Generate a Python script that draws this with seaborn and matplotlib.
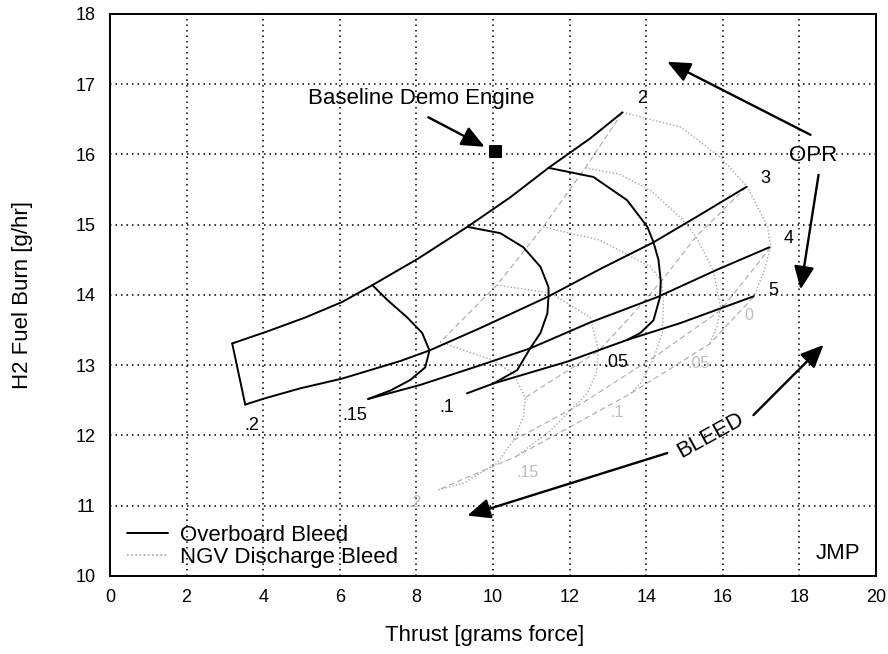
import matplotlib
matplotlib.use("Agg")
import matplotlib.pyplot as plt
from matplotlib.lines import Line2D
import seaborn as sns

# ---------------- data ----------------
# Overboard bleed carpet: constant-OPR lines
OB_OPR2_X = [3.19, 4.10, 5.10, 6.06, 6.85, 8.05, 9.33, 10.45, 11.45, 12.54, 13.38]
OB_OPR2_Y = [13.31, 13.48, 13.68, 13.90, 14.14, 14.52, 14.97, 15.39, 15.81, 16.23, 16.60]
OB_OPR3_X = [3.53, 4.05, 4.96, 6.06, 7.58, 8.34, 9.67, 11.45, 12.80, 14.19, 15.40, 16.62]
OB_OPR3_Y = [12.44, 12.53, 12.67, 12.81, 13.06, 13.21, 13.53, 13.98, 14.37, 14.75, 15.14, 15.54]
OB_OPR4_X = [6.74, 8.10, 9.67, 10.97, 12.54, 14.29, 15.85, 17.22]
OB_OPR4_Y = [12.52, 12.72, 13.00, 13.24, 13.61, 13.97, 14.36, 14.68]
OB_OPR5_X = [9.32, 10.01, 11.93, 13.50, 14.89, 16.80]
OB_OPR5_Y = [12.60, 12.74, 13.05, 13.36, 13.60, 13.98]
# Overboard bleed carpet: constant-bleed curves
OB_B05_X = [11.45, 12.62, 13.50, 14.03, 14.19, 14.32, 14.38, 14.36, 14.19, 13.85, 13.50]
OB_B05_Y = [15.81, 15.68, 15.35, 14.97, 14.75, 14.50, 14.20, 13.97, 13.64, 13.46, 13.36]
OB_B10_X = [9.33, 10.19, 10.79, 11.24, 11.45, 11.45, 11.42, 11.24, 10.97, 10.63, 10.01]
OB_B10_Y = [14.97, 14.88, 14.68, 14.40, 14.11, 13.99, 13.74, 13.46, 13.24, 12.93, 12.74]
OB_B15_X = [6.85, 7.24, 7.76, 8.15, 8.34, 8.23, 7.84, 7.32, 6.74]
OB_B15_Y = [14.14, 13.93, 13.68, 13.46, 13.21, 12.97, 12.79, 12.64, 12.52]
OB_B20_X = [3.19, 3.53]
OB_B20_Y = [13.31, 12.44]

# NGV discharge bleed carpet: constant-OPR lines
NGV_OPR2_X = [13.38, 12.41, 11.31, 10.10, 8.62]
NGV_OPR2_Y = [16.60, 15.81, 14.97, 14.14, 13.33]
NGV_OPR3_X = [16.62, 15.30, 14.40, 13.50, 12.75, 10.84]
NGV_OPR3_Y = [15.54, 14.83, 14.20, 13.64, 13.20, 12.54]
NGV_OPR4_X = [17.25, 15.94, 14.30, 12.30, 10.53]
NGV_OPR4_Y = [14.68, 13.78, 13.15, 12.45, 11.93]
NGV_OPR5_X = [16.80, 15.65, 13.60, 10.60, 8.54]
NGV_OPR5_Y = [13.97, 13.30, 12.60, 11.70, 11.22]
# NGV discharge bleed carpet: constant-bleed curves
NGV_B00_X = [13.38, 14.90, 15.94, 16.64, 17.17, 17.25, 17.06, 16.80]
NGV_B00_Y = [16.60, 16.39, 15.96, 15.54, 14.97, 14.68, 14.31, 13.97]
NGV_B05_X = [12.41, 13.30, 14.11, 14.90, 15.30, 15.75, 15.94, 15.85, 15.65]
NGV_B05_Y = [15.81, 15.72, 15.49, 15.10, 14.83, 14.35, 13.83, 13.55, 13.30]
NGV_B10_X = [11.31, 12.80, 14.11, 14.40, 14.45, 14.42, 14.20, 13.85, 13.60]
NGV_B10_Y = [14.97, 14.78, 14.40, 14.20, 13.92, 13.46, 13.10, 12.74, 12.60]
NGV_B15_X = [10.10, 11.50, 12.54, 12.75, 12.70, 12.46, 11.50, 10.60]
NGV_B15_Y = [14.14, 14.03, 13.68, 13.21, 12.90, 12.60, 12.07, 11.70]
NGV_B20_X = [8.62, 10.00, 10.53, 10.84, 10.79, 10.53, 10.10, 9.22, 8.54]
NGV_B20_Y = [13.33, 13.07, 12.88, 12.54, 12.26, 11.93, 11.60, 11.32, 11.22]

BASELINE_X = [10.06]
BASELINE_Y = [16.05]

OPR_LABELS = ["2", "3", "4", "5"]
OPR_LABEL_X = [13.9, 17.12, 17.72, 17.33]
OPR_LABEL_Y = [16.8, 15.66, 14.81, 14.07]
OB_BLEED_LABELS = [".2", ".15", ".1", ".05"]
OB_BLEED_LABEL_X = [3.71, 6.40, 8.80, 13.20]
OB_BLEED_LABEL_Y = [12.14, 12.29, 12.40, 13.04]
NGV_BLEED_LABELS = ["0", ".05", ".1", ".15", ".2"]
NGV_BLEED_LABEL_X = [16.67, 15.37, 13.25, 10.90, 7.97]
NGV_BLEED_LABEL_Y = [13.71, 13.03, 12.33, 11.48, 11.05]

X_TICKS = list(range(0, 21, 2))
Y_TICKS = list(range(10, 19, 1))

# ---------------- style ----------------
sns.set_style("white")
plt.rcParams["font.family"] = ["Liberation Sans", "DejaVu Sans"]
plt.rcParams["text.color"] = "black"
plt.rcParams["axes.labelcolor"] = "black"
plt.rcParams["xtick.color"] = "black"
plt.rcParams["ytick.color"] = "black"
plt.rcParams["legend.labelcolor"] = "black"

fig, ax = plt.subplots(figsize=(8.88, 6.54), dpi=100)
fig.subplots_adjust(left=0.1239, right=0.9865, bottom=0.1193, top=0.9786)

BLACK_LW = 1.4
GRAY_DASH = "#aaaaaa"
GRAY_DOT = "#a8a8a8"


def draw(xs, ys, **kw):
    sns.lineplot(x=xs, y=ys, sort=False, estimator=None, ax=ax, **kw)


# NGV (gray) first, so black lies on top
for xs, ys in [(NGV_OPR2_X, NGV_OPR2_Y), (NGV_OPR3_X, NGV_OPR3_Y),
               (NGV_OPR4_X, NGV_OPR4_Y), (NGV_OPR5_X, NGV_OPR5_Y)]:
    draw(xs, ys, color=GRAY_DASH, linewidth=0.8, linestyle=(0, (5, 3)))
for xs, ys in [(NGV_B00_X, NGV_B00_Y), (NGV_B05_X, NGV_B05_Y), (NGV_B10_X, NGV_B10_Y),
               (NGV_B15_X, NGV_B15_Y), (NGV_B20_X, NGV_B20_Y)]:
    draw(xs, ys, color=GRAY_DOT, linewidth=1.0, linestyle=(0, (1, 1.5)))

for xs, ys in [(OB_OPR2_X, OB_OPR2_Y), (OB_OPR3_X, OB_OPR3_Y),
               (OB_OPR4_X, OB_OPR4_Y), (OB_OPR5_X, OB_OPR5_Y),
               (OB_B05_X, OB_B05_Y), (OB_B10_X, OB_B10_Y),
               (OB_B15_X, OB_B15_Y), (OB_B20_X, OB_B20_Y)]:
    draw(xs, ys, color="black", linewidth=BLACK_LW)

sns.scatterplot(x=BASELINE_X, y=BASELINE_Y, marker="s", s=75, color="black",
                edgecolor="black", ax=ax, zorder=5)

# axes
ax.set_xlim(0, 20)
ax.set_ylim(10, 18)
ax.set_xticks(X_TICKS)
ax.set_yticks(Y_TICKS)
ax.grid(True, color="black", linestyle=(0, (1, 2.6)), linewidth=1.1)
ax.set_axisbelow(True)
for sp in ax.spines.values():
    sp.set_visible(True)
    sp.set_color("black")
    sp.set_linewidth(1.4)
ax.tick_params(direction="inout", length=7, width=1.2, labelsize=13,
               colors="black", labelcolor="black", pad=6)
ax.tick_params(axis="y", pad=7)

ax.set_xlabel("Thrust [grams force]", fontsize=16, color="black")
ax.set_ylabel("H2 Fuel Burn [g/hr]", fontsize=16, color="black")
ax.xaxis.set_label_coords(0.489, -0.087)
ax.yaxis.set_label_coords(-0.100, 0.5)

# labels on carpet
for t, x, y in zip(OPR_LABELS, OPR_LABEL_X, OPR_LABEL_Y):
    ax.text(x, y, t, fontsize=13, ha="center", va="center", color="black")
for t, x, y in zip(OB_BLEED_LABELS, OB_BLEED_LABEL_X, OB_BLEED_LABEL_Y):
    ax.text(x, y, t, fontsize=13, ha="center", va="center", color="black")
for t, x, y in zip(NGV_BLEED_LABELS, NGV_BLEED_LABEL_X, NGV_BLEED_LABEL_Y):
    ax.text(x, y, t, fontsize=11.5, ha="center", va="center", color="#bdbdbd")

# annotations
arrow = dict(arrowstyle="-|>,head_length=0.5,head_width=0.22", color="black",
             lw=1.7, mutation_scale=28, shrinkA=0, shrinkB=0)
ax.text(5.17, 16.8, "Baseline Demo Engine", fontsize=16, ha="left", va="center",
        color="black")
ax.annotate("", xy=(9.78, 16.11), xytext=(8.31, 16.53), arrowprops=arrow)
ax.text(18.37, 15.99, "OPR", fontsize=16, ha="center", va="center", color="black")
ax.annotate("", xy=(14.55, 17.32), xytext=(18.29, 16.28), arrowprops=arrow)
ax.annotate("", xy=(18.03, 14.08), xytext=(18.5, 15.71), arrowprops=arrow)
ax.text(15.68, 12.0, "BLEED", fontsize=16, ha="center", va="center", rotation=29,
        color="black")
ax.annotate("", xy=(18.63, 13.29), xytext=(16.8, 12.29), arrowprops=arrow)
ax.annotate("", xy=(9.33, 10.86), xytext=(14.55, 11.75), arrowprops=arrow)
ax.text(19.0, 10.32, "JMP", fontsize=16, ha="center", va="center", color="black")

handles = [Line2D([], [], color="black", lw=BLACK_LW),
           Line2D([], [], color=GRAY_DOT, lw=1.2, linestyle=(0, (1, 1.5)))]
ax.legend(handles, ["Overboard Bleed", "NGV Discharge Bleed"], loc="lower left",
          bbox_to_anchor=(0.012, 0.0), frameon=False, fontsize=16,
          handlelength=1.85, handletextpad=0.55, labelspacing=0.05, borderpad=0.35,
          borderaxespad=0, labelcolor="black")

fig.savefig("out.png", dpi=100)
